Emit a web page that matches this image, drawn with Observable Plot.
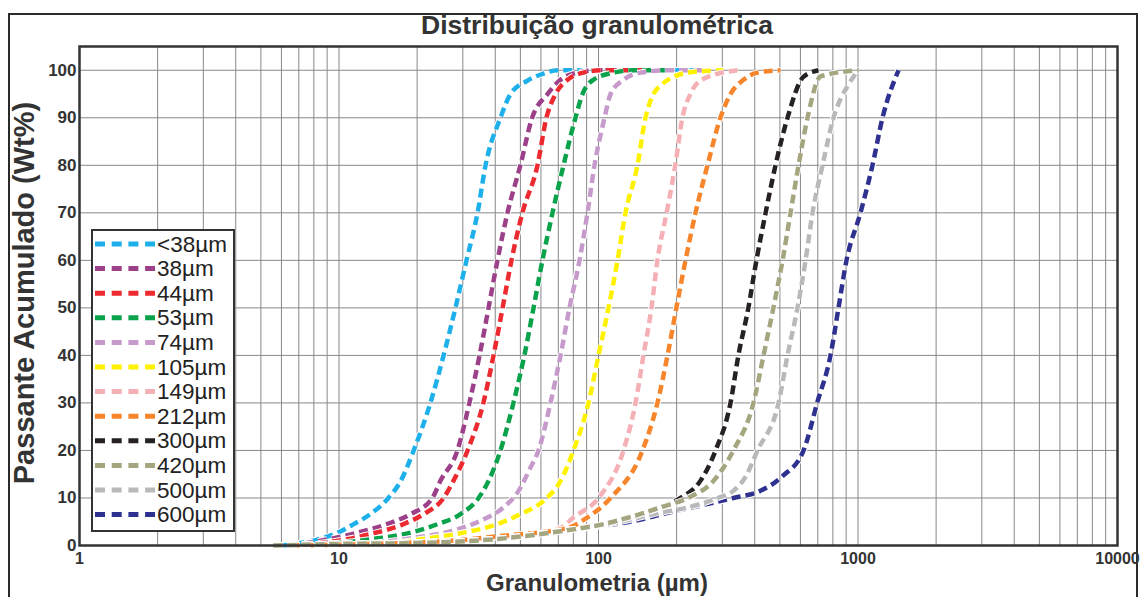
<!DOCTYPE html>
<html>
<head>
<meta charset="utf-8">
<script src="https://cdn.jsdelivr.net/npm/d3@7"></script>
<script src="https://cdn.jsdelivr.net/npm/@observablehq/plot@0.6"></script>
<style>
  html, body { margin: 0; padding: 0; background: #fff; }
  #wrap { position: relative; width: 1146px; height: 597px; overflow: hidden; background: #fff;
          font-family: "Liberation Sans", Arial, Helvetica, sans-serif; color: #333; }
  #outer { position: absolute; left: 8px; top: 13px; width: 1130px; height: 640px;
           border: 2px solid #2a2a2a; box-sizing: border-box; }
  #chart { position: absolute; left: 0; top: 0; }
  .lbl { position: absolute; white-space: nowrap; font-weight: bold; line-height: 1; color: #333; }
  #title { left: 597px; top: 12px; font-size: 26.5px; transform: translateX(-50%); }
  #xlabel { left: 597px; top: 571px; font-size: 24px; transform: translateX(-50%); }
  #ylabel { left: 24px; top: 293px; font-size: 29px; transform: translate(-50%, -50%) rotate(-90deg); }
</style>
</head>
<body>
<div id="wrap">
  <div id="outer"></div>
  <div id="chart"></div>
  <div class="lbl" id="title">Distribuição granulométrica</div>
  <div class="lbl" id="xlabel">Granulometria (µm)</div>
  <div class="lbl" id="ylabel">Passante Acumulado (Wt%)</div>
</div>
<script>
// ---- Data ----
const seriesNames = ["<38µm", "38µm", "44µm", "53µm", "74µm", "105µm", "149µm", "212µm", "300µm", "420µm", "500µm", "600µm"];
const seriesColors = ["#1db0ea", "#9c4189", "#ec2a30", "#0ba24c", "#c79acc", "#fff200", "#f5b0b5", "#f6852b", "#262223", "#a5a67f", "#b8b9ba", "#2f3190"];

const size_lt38 = [6.1, 6.7, 8.3, 9.9, 11.4, 13.2, 15.5, 17.3, 19.4, 22.5, 25.3, 28.1, 31.0, 34.2, 36.7, 41.9, 45.8, 53.2, 61.4, 69.5, 236];
const pass_lt38 = [0, 0.3, 1.3, 2.7, 4.5, 6.6, 10, 13.6, 20, 30, 40, 50, 60, 70, 80, 90, 95, 97.8, 99.3, 100, 100];

const size_38 = [6.5, 8.5, 11.4, 15.3, 18.9, 22.9, 24.6, 28.6, 31.8, 34.8, 37.7, 40.8, 44.6, 50.0, 55.5, 63.6, 71.4, 83.0, 99.0, 150];
const pass_38 = [0, 1, 2.5, 4.5, 6.6, 10, 13.6, 20, 30, 40, 50, 60, 70, 80, 90, 95, 98, 99.5, 100, 100];

const size_44 = [6.5, 9.9, 13.2, 17.7, 21.2, 25.3, 27.6, 31.3, 36.0, 39.4, 42.7, 46.2, 50.9, 58.2, 63.0, 68.3, 76.0, 87.5, 104.5, 150];
const pass_44 = [0, 1, 2.4, 4.5, 6.6, 10, 13.6, 20, 30, 40, 50, 60, 70, 80, 90, 95, 98, 99.5, 100, 100];

const size_53 = [6.5, 9.3, 13.2, 18.9, 24.0, 29.4, 34.5, 37.7, 41.9, 47.0, 51.8, 56.2, 60.8, 66.5, 73.3, 81.5, 86.8, 95.6, 114.2, 136.4, 180];
const pass_53 = [0, 0.4, 1.3, 2.7, 4.5, 6.6, 10, 13.6, 20, 30, 40, 50, 60, 70, 80, 90, 95, 98, 99.5, 100, 100];

const size_74 = [6.5, 11.4, 19.4, 28.6, 35.1, 43.0, 49.2, 54.7, 58.7, 65.3, 71.4, 77.3, 84.5, 90.7, 96.5, 105.5, 111.3, 124.8, 145, 184.5, 254];
const pass_74 = [0, 0.25, 1.6, 3.4, 5.2, 8, 11.5, 16.4, 20, 30, 40, 50, 60, 70, 80, 90, 95, 98, 99.5, 100, 100];

const size_105 = [6.5, 14, 22.5, 30.2, 40.8, 50, 61.4, 71.4, 80.1, 91.5, 100, 109.3, 118.4, 127.1, 141.3, 151.7, 163, 176, 194.5, 220, 303];
const pass_105 = [0, 0.3, 1.6, 2.7, 4.5, 6.6, 9.4, 13.6, 20, 30, 40, 50, 60, 70, 80, 90, 95, 97.1, 98.6, 99.5, 100];

const size_149 = [6.5, 17, 27, 46, 71.4, 80, 100, 124.8, 138.9, 149, 160, 168.7, 183, 197.6, 210.5, 226, 250, 343];
const pass_149 = [0, 0.5, 1, 2, 3.7, 5.9, 10, 20, 30, 40, 50, 60, 70, 80, 90, 95, 98, 100];

const size_212 = [6.5, 17, 27, 42, 76, 90.7, 111.3, 147.7, 168.7, 184.5, 199.6, 216.4, 236.5, 263, 295, 322.6, 362, 410, 502];
const pass_212 = [0, 0.5, 1, 2, 3.7, 5.9, 10, 20, 30, 40, 50, 60, 70, 80, 90, 95, 98, 99.5, 100];

const size_300 = [5.6, 9.3, 22, 39.4, 71.4, 104.5, 132.8, 173, 207, 247, 282.6, 322.6, 346, 378, 406, 440.5, 481, 535, 616, 704];
const pass_300 = [0, 0.3, 0.6, 1.3, 3, 4.5, 6, 8, 10, 13.6, 20, 30, 40, 50, 60, 70, 80, 90, 98.6, 100];

const size_420 = [5.6, 9.3, 22, 39.4, 71.4, 104.5, 132.8, 173, 221, 277.5, 331, 395.5, 432.5, 472, 512, 549.5, 590, 639, 717, 1005];
const pass_420 = [0, 0.3, 0.6, 1.3, 3, 4.5, 6, 8, 10, 13.6, 20, 30, 40, 50, 60, 70, 80, 90, 98.7, 100];

const size_500 = [5.6, 9.3, 22, 39.4, 71.4, 95.6, 129, 168.7, 220, 288, 331, 369, 410, 494, 535, 584.5, 628, 668, 730, 805, 919, 1005];
const pass_500 = [0, 0.3, 0.6, 1.3, 3, 3.9, 5.3, 6.8, 8, 10, 11.5, 14.5, 20, 30, 40, 50, 60, 70, 80, 90, 97, 100];

const size_600 = [5.6, 9.3, 22, 39.4, 71.4, 95.6, 141, 189, 247, 331, 421, 512, 617, 696, 783.5, 841, 903, 1022, 1137, 1243, 1433];
const pass_600 = [0, 0.3, 0.6, 1.3, 3, 3.9, 5.3, 7, 8.4, 10, 11.5, 14.6, 20, 30, 40, 50, 60, 70, 80, 90, 100];

const xTickLabels = [1, 10, 100, 1000, 10000];
const yTickLabels = [0, 10, 20, 30, 40, 50, 60, 70, 80, 90, 100];

// ---- Build series table ----
const sizeArrays = [size_lt38, size_38, size_44, size_53, size_74, size_105, size_149, size_212, size_300, size_420, size_500, size_600];
const passArrays = [pass_lt38, pass_38, pass_44, pass_53, pass_74, pass_105, pass_149, pass_212, pass_300, pass_420, pass_500, pass_600];
const series = seriesNames.map((name, i) => ({
  name, color: seriesColors[i],
  data: sizeArrays[i].map((s, j) => ({size: s, pass: passArrays[i][j]}))
}));

// draw order (olive tail on top of gray/navy as in the reference)
const drawOrder = [0, 1, 2, 3, 4, 5, 6, 7, 11, 10, 8, 9];

// minor log grid positions
const gridX = [];
for (let k = 0; k < 4; k++) for (let m = 1; m < 10; m++) gridX.push(m * Math.pow(10, k));
gridX.push(10000);

const dash = "9,5";
const lineMarks = [];
for (const i of drawOrder) {
  const s = series[i];
  lineMarks.push(Plot.line(s.data, {x: "size", y: "pass", curve: "monotone-x", stroke: "#ffffff", strokeWidth: 6.5, strokeDasharray: dash, strokeLinecap: "butt"}));
  lineMarks.push(Plot.line(s.data, {x: "size", y: "pass", curve: "monotone-x", stroke: s.color, strokeWidth: 4.5, strokeDasharray: dash, strokeLinecap: "butt"}));
}

const chart = Plot.plot({
  width: 1146,
  height: 597,
  marginLeft: 79,
  marginRight: 29,
  marginTop: 46,
  marginBottom: 52,
  x: {type: "log", domain: [1, 10000]},
  y: {domain: [0, 105]},
  style: {fontFamily: "'Liberation Sans', Arial, Helvetica, sans-serif", fontWeight: "bold", background: "transparent", overflow: "visible", color: "#333"},
  marks: [
    Plot.ruleX(gridX, {stroke: "#888888", strokeWidth: 1, strokeOpacity: 1}),
    Plot.ruleY(yTickLabels, {stroke: "#888888", strokeWidth: 1, strokeOpacity: 1}),
    ...lineMarks,
    Plot.frame({stroke: "#333", strokeWidth: 2.5}),
    Plot.axisX({ticks: xTickLabels, tickFormat: d => String(d), tickSize: 0, tickPadding: 7, fontSize: 16, fill: "#333", label: null}),
    Plot.axisY({ticks: yTickLabels, tickSize: 0, tickPadding: 3, fontSize: 17, fill: "#333", label: null})
  ]
});
document.getElementById("chart").appendChild(chart);

// ---- Legend (inside plot area, as in the reference) ----
const NS = "http://www.w3.org/2000/svg";
const leg = document.createElementNS(NS, "svg");
leg.setAttribute("width", 1146);
leg.setAttribute("height", 597);
leg.style.position = "absolute"; leg.style.left = "0px"; leg.style.top = "0px";
const box = document.createElementNS(NS, "rect");
box.setAttribute("x", 92); box.setAttribute("y", 230);
box.setAttribute("width", 142); box.setAttribute("height", 301);
box.setAttribute("fill", "#fff"); box.setAttribute("stroke", "#333"); box.setAttribute("stroke-width", 2);
leg.appendChild(box);
series.forEach((s, i) => {
  const cy = 244 + i * 24.6;
  const ln = document.createElementNS(NS, "line");
  ln.setAttribute("x1", 95); ln.setAttribute("x2", 155);
  ln.setAttribute("y1", cy); ln.setAttribute("y2", cy);
  ln.setAttribute("stroke", s.color); ln.setAttribute("stroke-width", 5);
  ln.setAttribute("stroke-dasharray", "10,6.7");
  leg.appendChild(ln);
  const tx = document.createElementNS(NS, "text");
  tx.setAttribute("x", 157); tx.setAttribute("y", cy + 7.5);
  tx.setAttribute("font-family", "'Liberation Sans', Arial, sans-serif");
  tx.setAttribute("font-size", 22.5);
  tx.setAttribute("fill", "#222");
  tx.textContent = s.name;
  leg.appendChild(tx);
});
document.getElementById("wrap").appendChild(leg);
</script>
</body>
</html>
